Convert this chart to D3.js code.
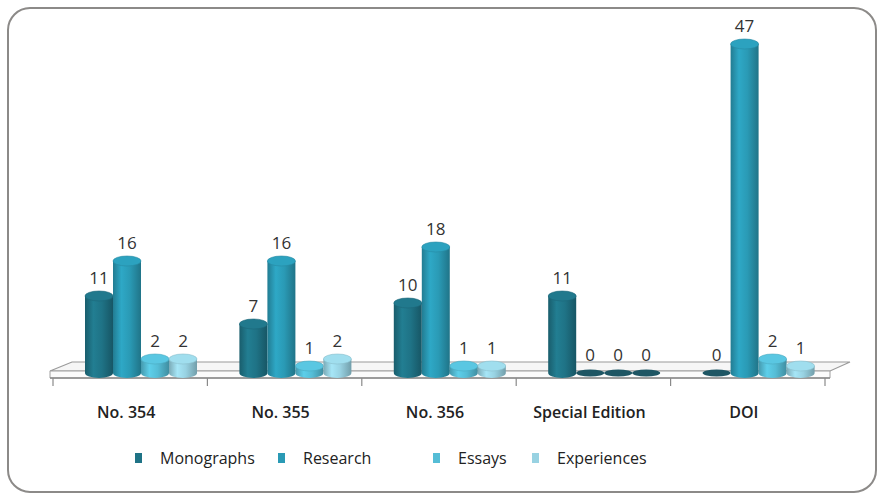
<!DOCTYPE html>
<html><head><meta charset="utf-8">
<script src="https://cdn.jsdelivr.net/npm/d3@7/dist/d3.min.js"></script>
<style>html,body{margin:0;padding:0;background:#fff;}svg{display:block;}</style>
</head><body>
<script>
const categories = ["No. 354", "No. 355", "No. 356", "Special Edition", "DOI"];
const seriesNames = ["Monographs", "Research", "Essays", "Experiences"];
const monographs = [11, 7, 10, 11, 0];
const research = [16, 16, 18, 0, 47];
const essays = [2, 1, 1, 0, 2];
const experiences = [2, 2, 1, 0, 1];
const seriesValues = [monographs, research, essays, experiences];
const colors = ["#1f7386", "#2a9ab5", "#55bdd6", "#98d2e2"];

const W = 883, H = 499;
const svg = d3.select("body").append("svg").attr("width", W).attr("height", H);
const defs = svg.append("defs");

// frame
svg.append("rect").attr("x", 8).attr("y", 8).attr("width", 868).attr("height", 484)
  .attr("rx", 22).attr("ry", 22).attr("fill", "#fff").attr("stroke", "#8c8a88").attr("stroke-width", 2);

const x = d3.scaleBand().domain(categories).range([53, 825]).paddingInner(0).paddingOuter(0);
const xs = d3.scaleBand().domain(seriesNames).range([32, 144]).padding(0);
const y = d3.scaleLinear().domain([0, 50]).range([373, 23]);

// floor
const g0 = svg.append("g");
const floorBack = y(0) - 11, floorFront = y(0) - 2, slabBottom = y(0) + 5;
g0.append("path")
  .attr("d", `M${x.range()[0] + 19},${floorBack} L${x.range()[1] + 25},${floorBack} L${x.range()[1] + 5},${floorFront} L${x.range()[0] - 3},${floorFront} Z`)
  .attr("fill", "#f6f6f6").attr("stroke", "#9a9a9a").attr("stroke-width", 1.2);
g0.append("path")
  .attr("d", `M${x.range()[0] - 3},${floorFront} L${x.range()[1] + 5},${floorFront} L${x.range()[1] + 5},${slabBottom} L${x.range()[0] - 3},${slabBottom} Z`)
  .attr("fill", "#fbfbfb").attr("stroke", "#a0a0a0").attr("stroke-width", 1);
g0.append("line").attr("x1", x.range()[0] - 3).attr("x2", x.range()[1] + 5)
  .attr("y1", slabBottom).attr("y2", slabBottom).attr("stroke", "#8a8a8a").attr("stroke-width", 1.5);
const tickXs = categories.map(c => x(c)).concat([x.range()[1]]);
g0.selectAll("line.tick").data(tickXs).enter().append("line").attr("class", "tick")
  .attr("x1", d => d).attr("x2", d => d).attr("y1", slabBottom).attr("y2", slabBottom + 8)
  .attr("stroke", "#8a8a8a").attr("stroke-width", 1.2);

// gradients
colors.forEach((c, i) => {
  const gr = defs.append("linearGradient").attr("id", "g" + i).attr("x1", "0").attr("x2", "1").attr("y1", "0").attr("y2", "0");
  const base = d3.color(c);
  gr.append("stop").attr("offset", "0%").attr("stop-color", base.darker(0.6));
  gr.append("stop").attr("offset", "30%").attr("stop-color", base.brighter(0.25));
  gr.append("stop").attr("offset", "60%").attr("stop-color", base);
  gr.append("stop").attr("offset", "100%").attr("stop-color", base.darker(0.8));
});

const ry = 5;
const bars = svg.append("g");
const labels = svg.append("g");
categories.forEach((cat, ci) => {
  seriesNames.forEach((s, si) => {
    const v = seriesValues[si][ci];
    const bw = xs.bandwidth();
    const bx = x(cat) + xs(s);
    const cx = bx + bw / 2;
    const yb = y(0), yt = y(v);
    if (v > 0) {
      bars.append("path")
        .attr("d", `M${bx},${yt} L${bx},${yb} A${bw / 2},${ry} 0 0 0 ${bx + bw},${yb} L${bx + bw},${yt} Z`)
        .attr("fill", `url(#g${si})`);
      bars.append("ellipse").attr("cx", cx).attr("cy", yt).attr("rx", bw / 2).attr("ry", ry)
        .attr("fill", d3.color(colors[si]).brighter(0.15)).attr("stroke", d3.color(colors[si]).darker(0.3)).attr("stroke-width", 0.6);
    } else {
      bars.append("ellipse").attr("cx", cx).attr("cy", yb).attr("rx", bw / 2).attr("ry", ry - 1.5)
        .attr("fill", "#1e5664");
    }
    labels.append("text").attr("x", cx).attr("y", yt - 12)
      .attr("text-anchor", "middle").attr("font-family", "Open Sans, sans-serif")
      .attr("font-size", 17).attr("fill", "#333").text(v);
  });
});

// category labels
svg.append("g").selectAll("text").data(categories).enter().append("text")
  .attr("x", d => x(d) + x.bandwidth() / 2 - 4).attr("y", 418)
  .attr("text-anchor", "middle").attr("font-family", "Open Sans, sans-serif")
  .attr("font-weight", 600).attr("font-size", 16).attr("fill", "#222").text(d => d);

// legend
const legendX = [135, 278, 433, 532];
const lg = svg.append("g");
seriesNames.forEach((s, i) => {
  lg.append("rect").attr("x", legendX[i]).attr("y", 453).attr("width", 7).attr("height", 10).attr("fill", colors[i]);
  lg.append("text").attr("x", legendX[i] + 25).attr("y", 464).attr("font-family", "Open Sans, sans-serif")
    .attr("font-size", 16).attr("fill", "#222").text(s);
});
</script>
</body></html>
